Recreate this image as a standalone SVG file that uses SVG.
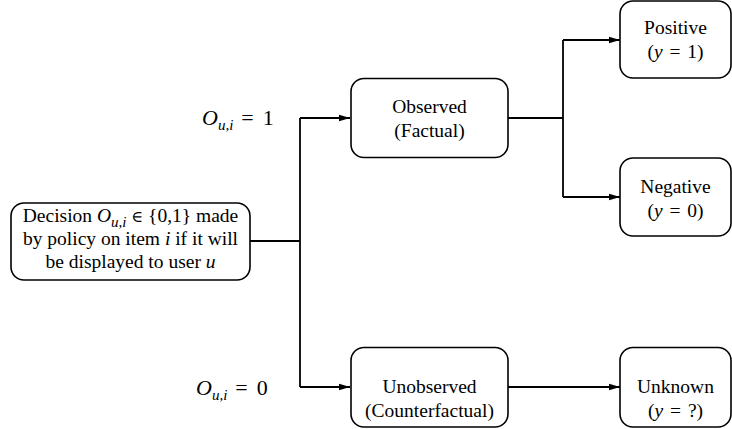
<svg xmlns="http://www.w3.org/2000/svg" width="732" height="429" viewBox="0 0 732 429">
<style>
.box{fill:#fff;stroke:#000;stroke-width:1.6}
.t{font-family:"Liberation Serif","Times New Roman",serif;font-size:19.5px;fill:#000;text-anchor:middle}
.m{font-family:"Liberation Serif","Times New Roman",serif;font-size:22px;fill:#000}
.i{font-style:italic}
.s{font-size:15px;font-style:italic}
.e{font-family:"DejaVu Serif",serif;font-size:16px}
.c{fill:none;stroke:#000;stroke-width:1.8}
</style>
<defs>
<marker id="ah" markerUnits="userSpaceOnUse" markerWidth="12" markerHeight="8" refX="11" refY="4" orient="auto">
<path d="M0,0.8 L11,4 L0,7.2 Z" fill="#000"/>
</marker>
</defs>
<g id="connectors">
<path class="c" d="M250,241 H300"/>
<path class="c" d="M300,118 V387"/>
<path class="c" d="M300,118 H350" marker-end="url(#ah)"/>
<path class="c" d="M300,387 H350" marker-end="url(#ah)"/>
<path class="c" d="M508,118 H563"/>
<path class="c" d="M563,40 V197"/>
<path class="c" d="M563,40 H620" marker-end="url(#ah)"/>
<path class="c" d="M563,197 H620" marker-end="url(#ah)"/>
<path class="c" d="M508,387 H620" marker-end="url(#ah)"/>
</g>
<g id="label-o1">
<text class="m" x="202" y="125"><tspan class="i">O</tspan><tspan class="s" dy="5">u,i</tspan><tspan dy="-5" dx="8">=</tspan><tspan dx="9">1</tspan></text>
</g>
<g id="label-o0">
<text class="m" x="196" y="395"><tspan class="i">O</tspan><tspan class="s" dy="5">u,i</tspan><tspan dy="-5" dx="8">=</tspan><tspan dx="9">0</tspan></text>
</g>
<g id="decision">
<rect class="box" x="11" y="203" width="239" height="77" rx="13"/>
<text class="t" x="130.5" y="221.5">Decision <tspan class="i">O</tspan><tspan class="s" dy="5">u,i</tspan><tspan dy="-5"> </tspan><tspan class="e">∈</tspan> {0,1} made</text>
<text class="t" x="130.5" y="245">by policy on item <tspan class="i">i</tspan> if it will</text>
<text class="t" x="130.5" y="268">be displayed to user <tspan class="i">u</tspan></text>
</g>
<g id="observed">
<rect class="box" x="351" y="78.5" width="157" height="79" rx="13"/>
<text class="t" x="429.5" y="112.5">Observed</text>
<text class="t" x="429.5" y="136.5">(Factual)</text>
</g>
<g id="unobserved">
<rect class="box" x="351" y="347.5" width="157" height="79.5" rx="13"/>
<text class="t" x="429.5" y="393">Unobserved</text>
<text class="t" x="429.5" y="417">(Counterfactual)</text>
</g>
<g id="positive">
<rect class="box" x="620" y="1" width="111" height="77" rx="13"/>
<text class="t" x="675.5" y="34">Positive</text>
<text class="t" x="675.5" y="58">(<tspan class="i">y</tspan><tspan dx="2"> = </tspan><tspan dx="2">1)</tspan></text>
</g>
<g id="negative">
<rect class="box" x="620" y="158" width="111" height="78" rx="13"/>
<text class="t" x="675.5" y="193">Negative</text>
<text class="t" x="675.5" y="217">(<tspan class="i">y</tspan><tspan dx="2"> = </tspan><tspan dx="2">0)</tspan></text>
</g>
<g id="unknown">
<rect class="box" x="620" y="347.5" width="111" height="79.5" rx="13"/>
<text class="t" x="675.5" y="393">Unknown</text>
<text class="t" x="675.5" y="417">(<tspan class="i">y</tspan><tspan dx="2"> = </tspan><tspan dx="2">?)</tspan></text>
</g>
</svg>
